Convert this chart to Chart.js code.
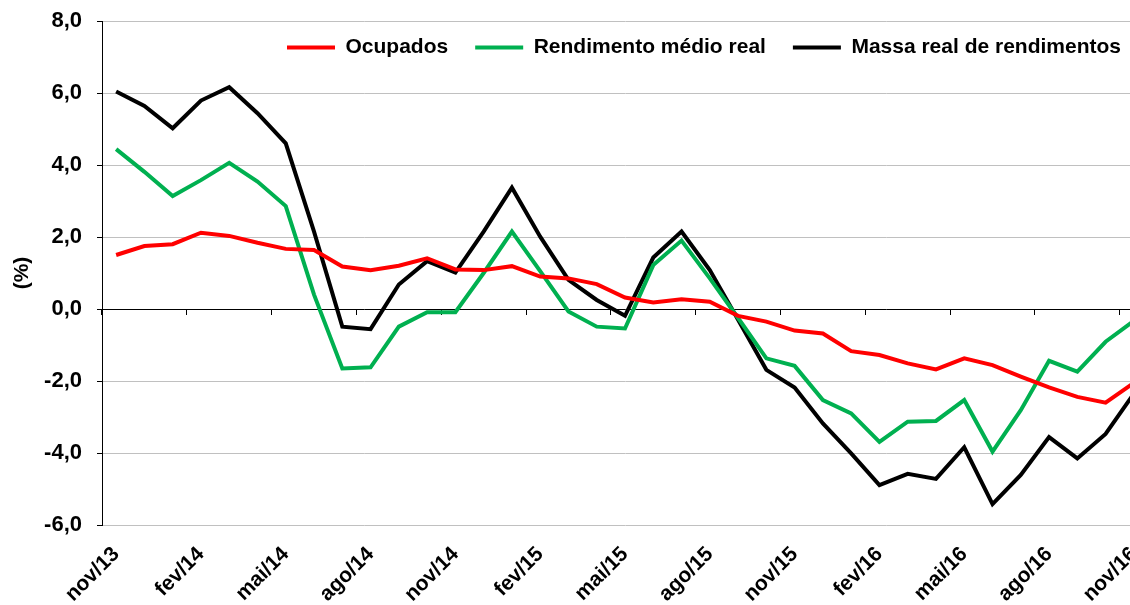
<!DOCTYPE html>
<html>
<head>
<meta charset="utf-8">
<script src="https://cdn.jsdelivr.net/npm/chart.js@4/dist/chart.umd.min.js"></script>
<style>
  html, body { margin: 0; padding: 0; background: #fff; overflow: hidden; }
  #wrap { width: 1150px; height: 605px; position: relative; }
</style>
</head>
<body>
<div id="wrap"><canvas id="chart"></canvas></div>
<script>
var months = ["nov/13","dez/13","jan/14","fev/14","mar/14","abr/14","mai/14","jun/14","jul/14","ago/14","set/14","out/14",
  "nov/14","dez/14","jan/15","fev/15","mar/15","abr/15","mai/15","jun/15","jul/15","ago/15","set/15","out/15",
  "nov/15","dez/15","jan/16","fev/16","mar/16","abr/16","mai/16","jun/16","jul/16","ago/16","set/16","out/16","nov/16"];

var ocupados = [1.50,1.75,1.80,2.12,2.03,1.84,1.67,1.64,1.18,1.08,1.20,1.41,1.10,1.08,1.19,0.90,0.85,0.69,0.32,
  0.18,0.27,0.20,-0.19,-0.35,-0.60,-0.68,-1.17,-1.28,-1.51,-1.68,-1.37,-1.56,-1.88,-2.18,-2.44,-2.60,-2.05];

var rendimentoMedio = [4.44,3.81,3.14,3.58,4.06,3.54,2.86,0.40,-1.65,-1.62,-0.49,-0.09,-0.09,1.00,2.15,1.05,-0.07,
  -0.49,-0.54,1.22,1.90,0.85,-0.25,-1.37,-1.58,-2.53,-2.90,-3.69,-3.13,-3.11,-2.53,-3.96,-2.81,-1.44,-1.74,-0.91,-0.33];

var massaReal = [6.04,5.64,5.02,5.79,6.16,5.44,4.60,2.15,-0.49,-0.56,0.68,1.33,1.01,2.15,3.37,2.01,0.81,0.25,-0.19,
  1.43,2.15,1.08,-0.30,-1.69,-2.18,-3.18,-4.01,-4.89,-4.58,-4.72,-3.84,-5.42,-4.61,-3.56,-4.15,-3.47,-2.35];

var yMin = -6, yMax = 8, yStep = 2;
var labelEvery = 3;

Chart.defaults.font.family = "'Liberation Sans', Arial, sans-serif";
Chart.defaults.font.size = 21;
Chart.defaults.font.weight = "bold";
Chart.defaults.color = "#000";

function lineSet(label, data, color) {
  return {
    label: label,
    data: data,
    borderColor: color,
    backgroundColor: color,
    borderWidth: 4,
    pointRadius: 0,
    pointHoverRadius: 0,
    tension: 0,
    xAxisID: "x"
  };
}

// the legend is drawn inside the plot area: it takes no room at the top, and sits a bit higher
var legendInPlot = {
  id: "legendInPlot",
  beforeLayout: function (chart) {
    var lg = chart.legend;
    if (lg && !lg._inPlot) {
      var fit = lg.fit;
      lg.fit = function () { fit.call(this); this.height = 0; };
      lg._inPlot = true;
    }
  },
  afterLayout: function (chart) {
    var lg = chart.legend;
    if (lg) {
      lg.top -= 11;
      lg.height = 70;
      lg.bottom = lg.top + lg.height;
    }
  }
};

new Chart(document.getElementById("chart"), {
  type: "line",
  data: {
    labels: months,
    datasets: [
      lineSet("Ocupados", ocupados, "#ff0000"),
      lineSet("Rendimento médio real", rendimentoMedio, "#00b050"),
      lineSet("Massa real de rendimentos", massaReal, "#000000")
    ]
  },
  options: {
    responsive: true,
    maintainAspectRatio: false,
    animation: false,
    layout: { padding: { left: 10, right: 2, top: 21, bottom: 0 } },
    plugins: {
      tooltip: { enabled: false },
      legend: {
        position: "top",
        align: "end",
        labels: {
          usePointStyle: true,
          pointStyle: "line",
          pointStyleWidth: 48,
          padding: 27,
          color: "#000",
          font: { size: 21, weight: "bold" }
        }
      }
    },
    scales: {
      x: {
        type: "category",
        position: "bottom",
        offset: true,
        grid: { display: false, drawTicks: false },
        border: { display: false },
        ticks: {
          autoSkip: false,
          maxRotation: 45,
          minRotation: 45,
          padding: 17,
          font: { size: 21, weight: "bold" },
          callback: function (v, i) { return i % labelEvery === 0 ? months[i] : ""; }
        },
        afterFit: function (scale) {
          scale.height = 80;
          scale.paddingLeft = 0;
          scale.paddingRight = 0;
        }
      },
      xZero: {
        type: "category",
        position: { y: 0 },
        offset: true,
        grid: {
          offset: true,
          drawOnChartArea: false,
          drawTicks: true,
          tickLength: 6,
          lineWidth: 1,
          color: function (ctx) { return ctx.index % labelEvery === 0 ? "#000" : "rgba(0,0,0,0)"; }
        },
        border: { display: false },
        ticks: { display: false }
      },
      y: {
        min: yMin,
        max: yMax,
        ticks: {
          stepSize: yStep,
          padding: 15,
          font: { size: 22, weight: "bold" },
          callback: function (v) { return v.toFixed(1).replace(".", ","); }
        },
        grid: {
          color: function (ctx) { return ctx.tick && ctx.tick.value === 0 ? "#000" : "#c0c0c0"; },
          tickColor: "#000",
          tickLength: 5,
          lineWidth: 1
        },
        border: { display: true, color: "#000", width: 1 },
        title: {
          display: true,
          text: "(%)",
          padding: { top: 0, bottom: 0 },
          font: { size: 21, weight: "bold" }
        },
        afterFit: function (scale) {
          scale.width = 92;
          scale.paddingTop = 0;
          scale.paddingBottom = 0;
        }
      }
    }
  },
  plugins: [legendInPlot]
});
</script>
</body>
</html>
